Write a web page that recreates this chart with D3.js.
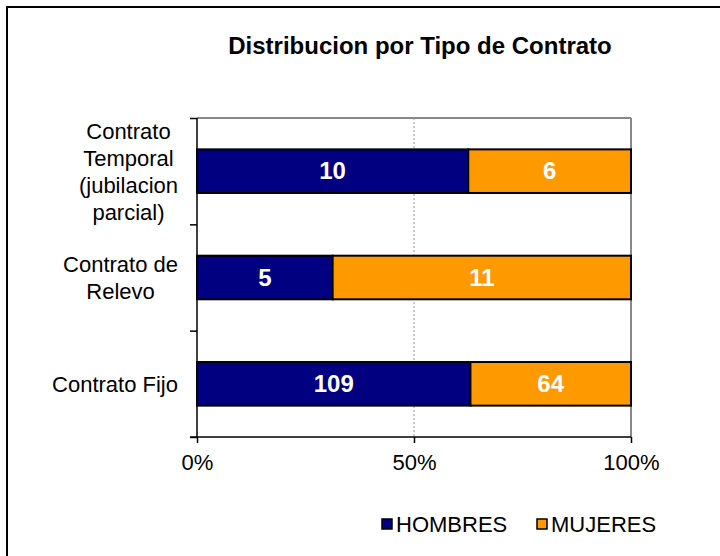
<!DOCTYPE html>
<html><head><meta charset="utf-8">
<script src="https://cdn.jsdelivr.net/npm/d3@7"></script>
<style>body{margin:0;background:#fff}svg{display:block;font-family:"Liberation Sans",Arial,sans-serif}</style>
</head><body><svg id="c" width="720" height="556"></svg>
<script>
const categories = [["Contrato","Temporal","(jubilacion","parcial)"],["Contrato de","Relevo"],["Contrato Fijo"]];
const hombres = [10, 5, 109];
const mujeres = [6, 11, 64];
const seriesNames = ["HOMBRES","MUJERES"];
const colors = ["#000080","#FF9900"];
const xTicks = [0, 0.5, 1];

const svg = d3.select("#c");
svg.append("rect").attr("x",7).attr("y",7).attr("width",730).attr("height",560).attr("fill","none").attr("stroke","#000").attr("stroke-width",2);

const L=197,R=631,T=118,B=437;
const x = d3.scaleLinear().domain([0,1]).range([L,R]);
const idx = d3.range(categories.length);
const y = d3.scaleBand().domain(idx).range([T,B]).paddingInner(0.59).paddingOuter(0.295);
const yTick = d3.scaleLinear().domain([0,categories.length]).range([T,B]);

svg.append("text").attr("x",420).attr("y",54).attr("text-anchor","middle").attr("font-weight","bold").attr("font-size",24).text("Distribucion por Tipo de Contrato");

svg.append("line").attr("x1",L).attr("x2",R).attr("y1",T).attr("y2",T).attr("stroke","#888").attr("stroke-width",2);
svg.append("line").attr("x1",R).attr("x2",R).attr("y1",T).attr("y2",B).attr("stroke","#888").attr("stroke-width",2);
svg.append("line").attr("x1",x(0.5)).attr("x2",x(0.5)).attr("y1",T).attr("y2",B).attr("stroke","#999").attr("stroke-dasharray","2,2").attr("stroke-width",1);

const stacks = idx.map(i=>{const t=hombres[i]+mujeres[i];return [{s:0,v:hombres[i],x0:0,x1:hombres[i]/t},{s:1,v:mujeres[i],x0:hombres[i]/t,x1:1}];});
idx.forEach(i=>{
  stacks[i].forEach(d=>{
    svg.append("rect").attr("x",x(d.x0)).attr("y",y(i)).attr("width",x(d.x1)-x(d.x0)).attr("height",y.bandwidth())
      .attr("fill",colors[d.s]).attr("stroke","#000").attr("stroke-width",2);
    svg.append("text").attr("x",(x(d.x0)+x(d.x1))/2).attr("y",y(i)+y.bandwidth()/2+8).attr("text-anchor","middle")
      .attr("fill","#fff").attr("font-weight","bold").attr("font-size",24).text(d.v);
  });
});

const ya = svg.append("g").attr("transform",`translate(${L},0)`).call(d3.axisLeft(yTick).tickValues(d3.range(categories.length+1)).tickSize(7).tickFormat(""));
ya.selectAll("path,line").attr("stroke","#000").attr("stroke-width",1.5);
ya.select("path").attr("d",`M0,${T}V${B}`);
const xa = svg.append("g").attr("transform",`translate(0,${B})`).call(d3.axisBottom(x).tickValues(xTicks).tickSize(6).tickPadding(11).tickFormat(d3.format(".0%")));
xa.select("path").attr("d",`M${L-7},0H${R}`).attr("stroke","#000").attr("stroke-width",1.5);
xa.selectAll("line").attr("stroke","#000").attr("stroke-width",1.5);
xa.selectAll("text").attr("font-size",22).attr("font-family","Liberation Sans, Arial, sans-serif").attr("fill","#000");

idx.forEach(i=>{
  const lines = categories[i];
  const g = svg.append("g");
  const lh = 27;
  const cy = y(i)+y.bandwidth()/2;
  const y0 = cy - (lines.length-1)*lh/2 + 8;
  const ts = lines.map((t,k)=>g.append("text").attr("y",y0+k*lh).attr("font-size",22).attr("text-anchor","middle").text(t));
  const mw = d3.max(ts,t=>t.node().getComputedTextLength());
  ts.forEach(t=>t.attr("x",178-mw/2));
});

const leg = [{x:382},{x:537}];
seriesNames.forEach((n,k)=>{
  svg.append("rect").attr("x",leg[k].x).attr("y",519).attr("width",10).attr("height",10).attr("fill",colors[k]).attr("stroke","#000").attr("stroke-width",1.5);
  svg.append("text").attr("x",leg[k].x+14).attr("y",532).attr("font-size",22).text(n);
});
</script></body></html>
